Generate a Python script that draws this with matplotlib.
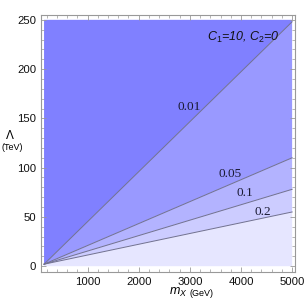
import matplotlib
matplotlib.use("Agg")
import matplotlib.pyplot as plt
from matplotlib.ticker import MultipleLocator

plt.rcParams["mathtext.fontset"] = "custom"
plt.rcParams["mathtext.it"] = "Liberation Sans:italic"
plt.rcParams["mathtext.rm"] = "Liberation Sans"

# Contour levels and their Lambda values (TeV) at the two ends of the mass range
levels = ["0.01", "0.05", "0.1", "0.2"]
m_range = [150, 5000]               # GeV
lam_start = [2, 2, 2, 2]            # TeV at m = 150
lam_end = [248, 110, 78, 55]        # TeV at m = 5000
lam_max = 250
region_colors = ["#8080ff", "#9999ff", "#b3b3ff", "#ccccff", "#e6e6ff"]
label_pos = [(2980, 162), (3790, 94), (4080, 74), (4430, 55)]
x_ticks = [1000, 2000, 3000, 4000, 5000]
y_ticks = [0, 50, 100, 150, 200, 250]

fig = plt.figure(figsize=(3.05, 3.04), dpi=100)
ax = fig.add_axes([0.134, 0.105, 0.833, 0.846])

x0, x1 = m_range
upper = [(lam_max, lam_max)] + [(s, e) for s, e in zip(lam_start, lam_end)]
lower = [(s, e) for s, e in zip(lam_start, lam_end)] + [(0, 0)]
for (us, ue), (ls, le), c in zip(upper, lower, region_colors):
    ax.fill([x0, x1, x1, x0], [us, ue, le, ls], color=c, lw=0)

for s, e in zip(lam_start, lam_end):
    ax.plot([x0, x1], [s, e], color="#70708f", lw=0.7)

for lab, (lx, ly) in zip(levels, label_pos):
    ax.text(lx, ly, lab, family="Liberation Serif", fontsize=9.5,
            ha="center", va="center", color="#1a1a33")

ax.text(4050, 232, r"$C_1$=10, $C_2$=0", fontsize=9, ha="center", va="center",
        style="italic", family="Liberation Sans", color="#111111")

ax.set_xlim(88, 5055)
ax.set_ylim(-6, 255)
ax.set_xticks(x_ticks)
ax.set_yticks(y_ticks)
ax.xaxis.set_minor_locator(MultipleLocator(200))
ax.yaxis.set_minor_locator(MultipleLocator(10))
ax.tick_params(which="both", direction="in", top=True, right=True,
               color="#999999", labelsize=8.2, labelcolor="#111111")
ax.tick_params(which="major", length=3.5, width=0.6)
ax.tick_params(which="minor", length=2, width=0.5)
for lab in ax.get_xticklabels() + ax.get_yticklabels():
    lab.set_family("Liberation Sans")
for sp in ax.spines.values():
    sp.set_color("#999999")
    sp.set_linewidth(0.8)

fig.text(10 / 305, 1 - 136 / 304, "Λ", fontsize=8.5, ha="center", va="center",
         family="Liberation Sans")
fig.text(12 / 305, 1 - 147 / 304, "(TeV)", fontsize=6.5, ha="center", va="center",
         family="Liberation Sans")
fig.text(188 / 305, 1 - 292 / 304, r"$m_X$", fontsize=9, ha="right", va="center")
fig.text(190 / 305, 1 - 293 / 304, "(GeV)", fontsize=6.5, ha="left", va="center",
         family="Liberation Sans")

fig.savefig("out.png", dpi=100)
